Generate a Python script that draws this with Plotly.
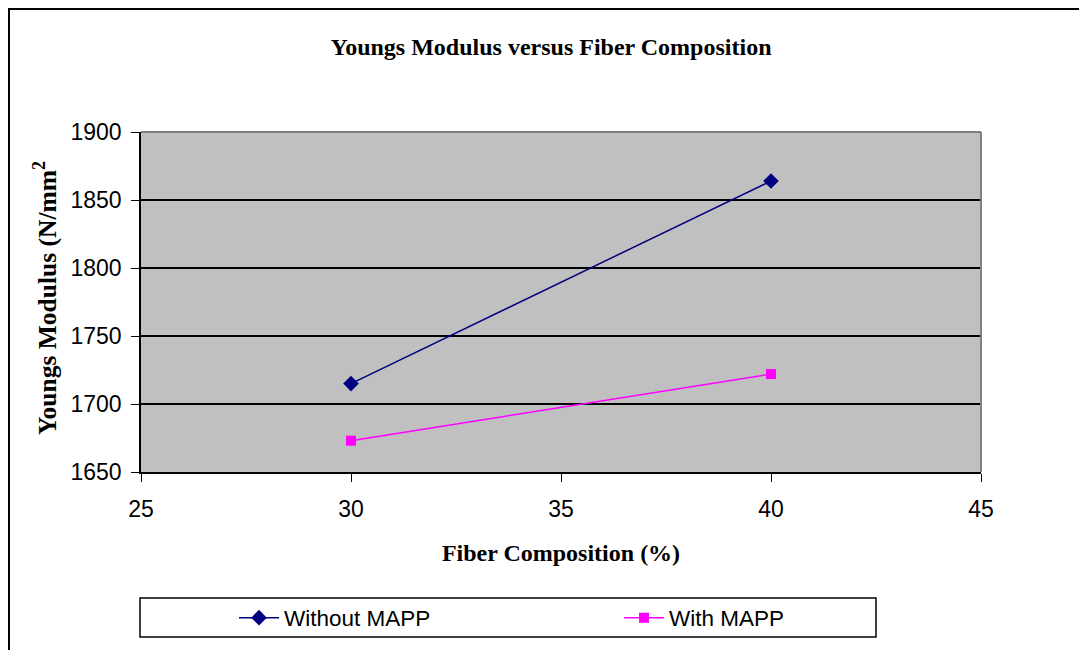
import plotly.graph_objects as go

# Fiber composition (%) and Young's modulus (N/mm²) per series
fiber_composition = [30, 40]
without_mapp = [1715, 1864]
with_mapp = [1673, 1722]

x_ticks = [25, 30, 35, 40, 45]
y_ticks = [1650, 1700, 1750, 1800, 1850, 1900]

W, H = 1079, 650
L, R, T, B = 141, 981, 132, 472  # plot area in pixels
pw, ph = R - L, B - T


def px(x):
    return (x - L) / pw


def py(y):
    return (B - y) / ph


serif = "Liberation Serif, Times New Roman, serif"
sans = "Liberation Sans, Arial, sans-serif"

fig = go.Figure()
fig.add_trace(go.Scatter(
    x=fiber_composition, y=without_mapp, name="Without MAPP",
    mode="lines+markers", legend="legend",
    line=dict(color="#000080", width=1.5),
    marker=dict(symbol="diamond", size=12, color="#000080"),
))
fig.add_trace(go.Scatter(
    x=fiber_composition, y=with_mapp, name="With MAPP",
    mode="lines+markers", legend="legend2",
    line=dict(color="#FF00FF", width=1.5),
    marker=dict(symbol="square", size=10, color="#FF00FF"),
))

legend_common = dict(
    orientation="h",
    xref="container", yref="container",
    yanchor="middle", y=1 - 618 / H,
    xanchor="left",
    font=dict(family=sans, size=22.5, color="black"),
    bgcolor="rgba(0,0,0,0)",
    itemwidth=40,
)

fig.update_layout(
    width=W, height=H,
    margin=dict(l=L, r=W - R, t=T, b=H - B, autoexpand=False),
    paper_bgcolor="white",
    plot_bgcolor="#C0C0C0",
    title=dict(
        text="<b>Youngs Modulus versus Fiber Composition</b>",
        font=dict(family=serif, size=24, color="black"),
        x=551 / W, xanchor="center",
        y=1 - 47 / H, yanchor="middle",
    ),
    xaxis=dict(
        range=[25, 45], tickvals=x_ticks, ticktext=[str(v) for v in x_ticks],
        showgrid=False, zeroline=False,
        showline=True, linecolor="black", linewidth=1.5,
        ticks="outside", ticklen=8, tickcolor="black", tickwidth=1,
        ticklabelstandoff=8,
        tickfont=dict(family=sans, size=23, color="black"),
        title=dict(text="<b>Fiber Composition (%)</b>",
                   font=dict(family=serif, size=24, color="black"),
                   standoff=23),
    ),
    yaxis=dict(
        range=[1650, 1900], tickvals=y_ticks, ticktext=[str(v) for v in y_ticks],
        showgrid=True, gridcolor="black", gridwidth=1.5, zeroline=False,
        showline=True, linecolor="black", linewidth=1.5,
        ticks="outside", ticklen=8, tickcolor="black", tickwidth=1,
        ticklabelstandoff=5,
        tickfont=dict(family=sans, size=23, color="black"),
    ),
    showlegend=True,
    legend=dict(legend_common, x=234 / W),
    legend2=dict(legend_common, x=619 / W),
    annotations=[
        dict(text="<b>Youngs Modulus (N/mm<sup>2</sup></b>",
             xref="paper", yref="paper", x=px(45), y=py(298),
             xanchor="center", yanchor="middle", textangle=-90,
             showarrow=False,
             font=dict(family=serif, size=25.5, color="black")),
    ],
    shapes=[
        # outer chart frame
        dict(type="rect", xref="paper", yref="paper",
             x0=px(9), x1=px(1090), y0=py(9), y1=py(665),
             line=dict(color="black", width=2), layer="below"),
        # plot area border (top and right in gray)
        dict(type="line", xref="paper", yref="paper",
             x0=0, x1=1, y0=1, y1=1, line=dict(color="#808080", width=2)),
        dict(type="line", xref="paper", yref="paper",
             x0=1, x1=1, y0=0, y1=1, line=dict(color="#808080", width=2)),
        # legend box
        dict(type="rect", xref="paper", yref="paper",
             x0=px(140), x1=px(876), y0=py(598), y1=py(637),
             line=dict(color="black", width=1.5)),
    ],
)

fig.write_html("out.html")
